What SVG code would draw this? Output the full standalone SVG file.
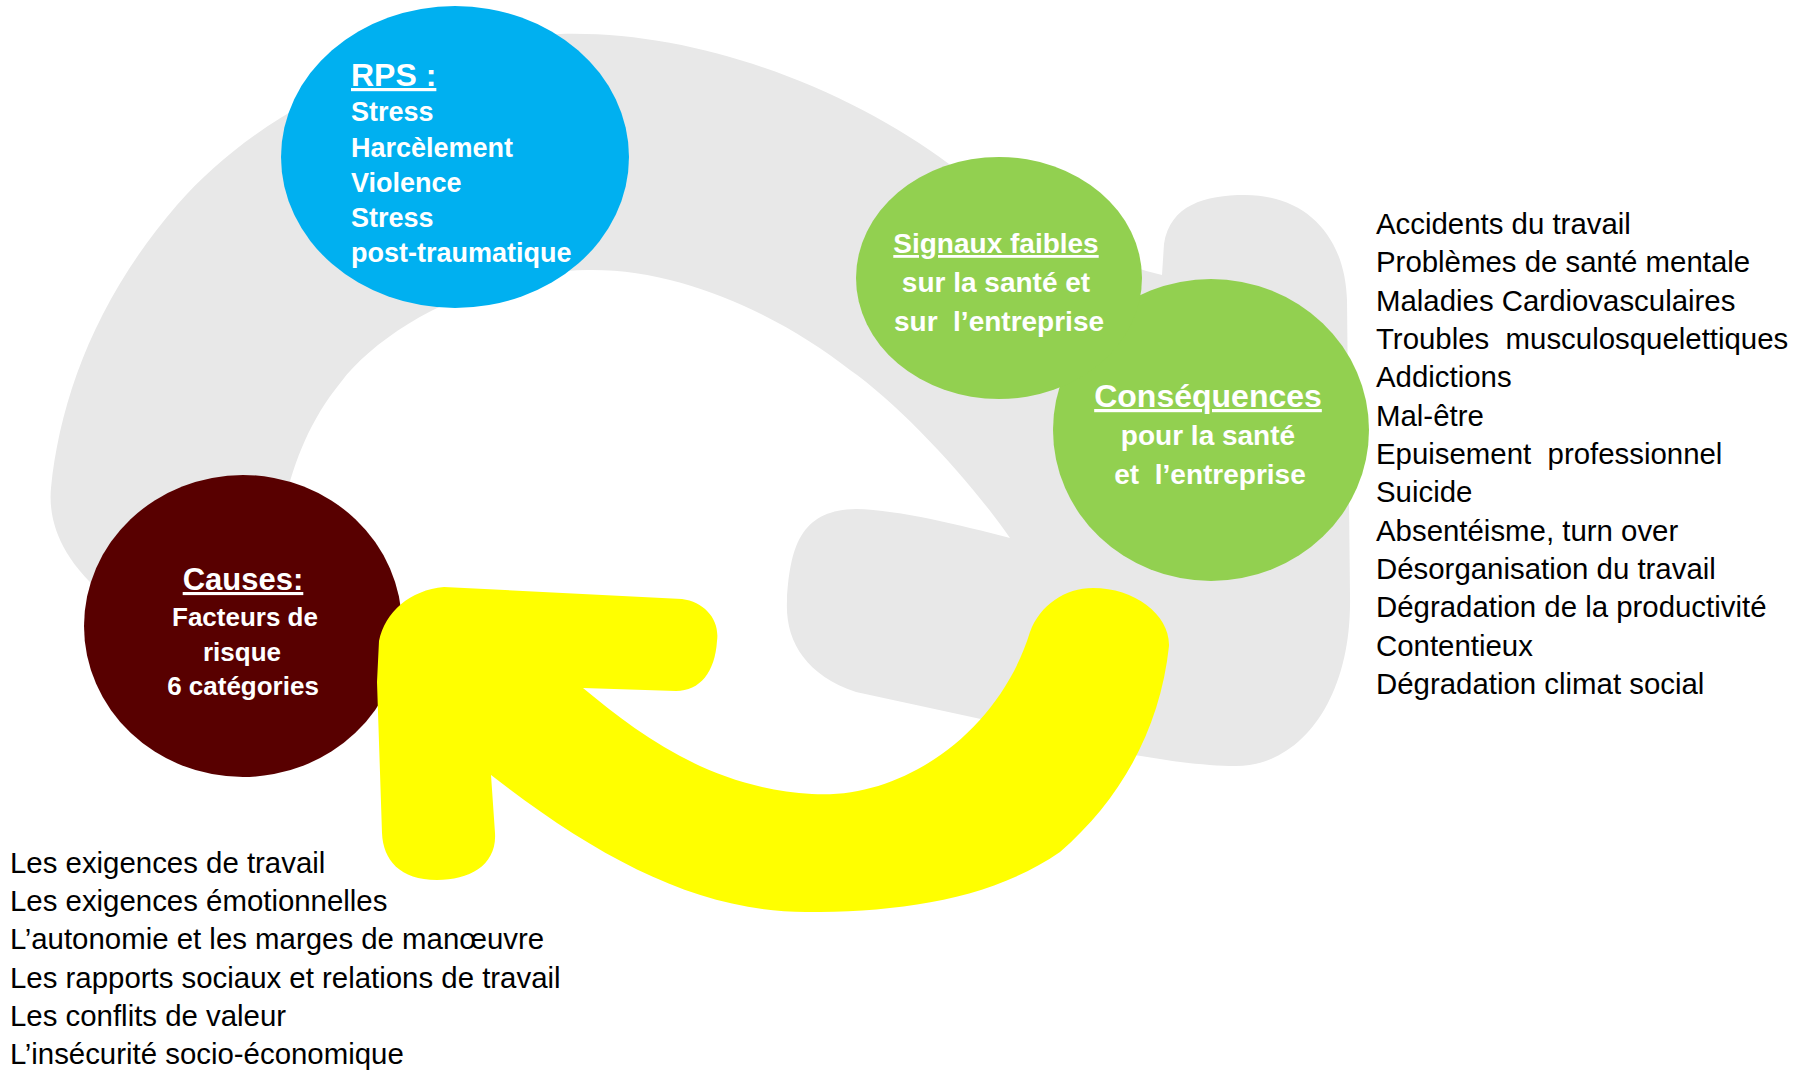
<svg xmlns="http://www.w3.org/2000/svg" width="1806" height="1070" viewBox="0 0 1806 1070">
<style>
.t{font-family:"Liberation Sans",Arial,sans-serif;white-space:pre}
.w{fill:#FFFFFF;font-weight:bold}
.k{fill:#000000;font-size:29.4px}
.u{text-decoration:underline}
.c{text-anchor:middle}
</style>
<rect width="1806" height="1070" fill="#FFFFFF"/>
<g id="connectors">
<path id="grey-cycle-arrow" fill="#E8E8E8" d="M 110,600 C 60,560 48,520 51,488 C 60,400 95,300 177,205 C 260,110 400,40 560,34 C 700,30 850,90 949,164 C 1040,230 1100,260 1162,275 L 1164,244 C 1170,205 1205,195 1245,195 C 1305,195 1345,235 1347,300 L 1350,596 C 1352,700 1300,766 1236,766 C 1150,766 1000,725 990,721 L 856,692 C 805,675 785,640 787,601 C 790,540 805,510 856,509 C 900,510 960,525 1010,538 C 970,480 900,405 850,370 C 780,315 680,268 587,270 C 480,272 380,330 341,382 C 310,420 295,460 285,500 L 270,560 Z"/>
</g>
<g id="node-rps">
<ellipse cx="455" cy="157" rx="174" ry="151" fill="#00B0F0"/>
<text class="t w u" x="351" y="86" font-size="32">RPS :</text>
<text class="t w" x="351" y="121" font-size="27">Stress</text>
<text class="t w" x="351" y="157" font-size="27">Harcèlement</text>
<text class="t w" x="351" y="192" font-size="27">Violence</text>
<text class="t w" x="351" y="227" font-size="27">Stress</text>
<text class="t w" x="351" y="262" font-size="27">post-traumatique</text>
</g>
<g id="node-consequences">
<ellipse cx="1211" cy="430" rx="158" ry="151" fill="#92D050"/>
<text class="t w u c" x="1208" y="407" font-size="32">Conséquences</text>
<text class="t w c" x="1208" y="445" font-size="28">pour la santé</text>
<text class="t w c" x="1210" y="484" font-size="28">et  l’entreprise</text>
</g>
<g id="node-signaux">
<ellipse cx="999" cy="278" rx="143" ry="121" fill="#92D050"/>
<text class="t w u c" x="996" y="253" font-size="28">Signaux faibles</text>
<text class="t w c" x="996" y="292" font-size="28">sur la santé et</text>
<text class="t w c" x="999" y="331" font-size="28">sur  l’entreprise</text>
</g>
<g id="node-causes">
<ellipse cx="243" cy="626" rx="159" ry="151" fill="#580000"/>
<text class="t w u c" x="243" y="590" font-size="31">Causes:</text>
<text class="t w c" x="245" y="626" font-size="26">Facteurs de</text>
<text class="t w c" x="242" y="661" font-size="26">risque</text>
<text class="t w c" x="243" y="695" font-size="26">6 catégories</text>
</g>
<g id="connector-yellow">
<path fill="#FFFF00" d="M 379,641 C 385,612 410,590 444,587 L 682,599 C 705,602 720,620 717,641 C 715,672 700,691 676,691 L 583,688 C 640,735 710,788 812,794 C 905,800 1000,730 1030,632 C 1040,605 1065,588 1093,588 C 1135,588 1170,615 1169,646 C 1160,730 1120,800 1060,852 C 990,900 900,912 806,912 C 700,912 600,860 491,775 L 495,833 C 497,865 470,880 437,880 C 400,880 383,860 382,833 L 377,682 Z"/>
</g>
<g id="list-consequences">
<text class="t k" x="1376" y="234">Accidents du travail</text>
<text class="t k" x="1376" y="272">Problèmes de santé mentale</text>
<text class="t k" x="1376" y="311">Maladies Cardiovasculaires</text>
<text class="t k" x="1376" y="349">Troubles  musculosquelettiques</text>
<text class="t k" x="1376" y="387">Addictions</text>
<text class="t k" x="1376" y="426">Mal-être</text>
<text class="t k" x="1376" y="464">Epuisement  professionnel</text>
<text class="t k" x="1376" y="502">Suicide</text>
<text class="t k" x="1376" y="541">Absentéisme, turn over</text>
<text class="t k" x="1376" y="579">Désorganisation du travail</text>
<text class="t k" x="1376" y="617">Dégradation de la productivité</text>
<text class="t k" x="1376" y="656">Contentieux</text>
<text class="t k" x="1376" y="694">Dégradation climat social</text>
</g>
<g id="list-causes">
<text class="t k" x="10" y="873">Les exigences de travail</text>
<text class="t k" x="10" y="911">Les exigences émotionnelles</text>
<text class="t k" x="10" y="949">L’autonomie et les marges de manœuvre</text>
<text class="t k" x="10" y="988">Les rapports sociaux et relations de travail</text>
<text class="t k" x="10" y="1026">Les conflits de valeur</text>
<text class="t k" x="10" y="1064">L’insécurité socio-économique</text>
</g>
</svg>
